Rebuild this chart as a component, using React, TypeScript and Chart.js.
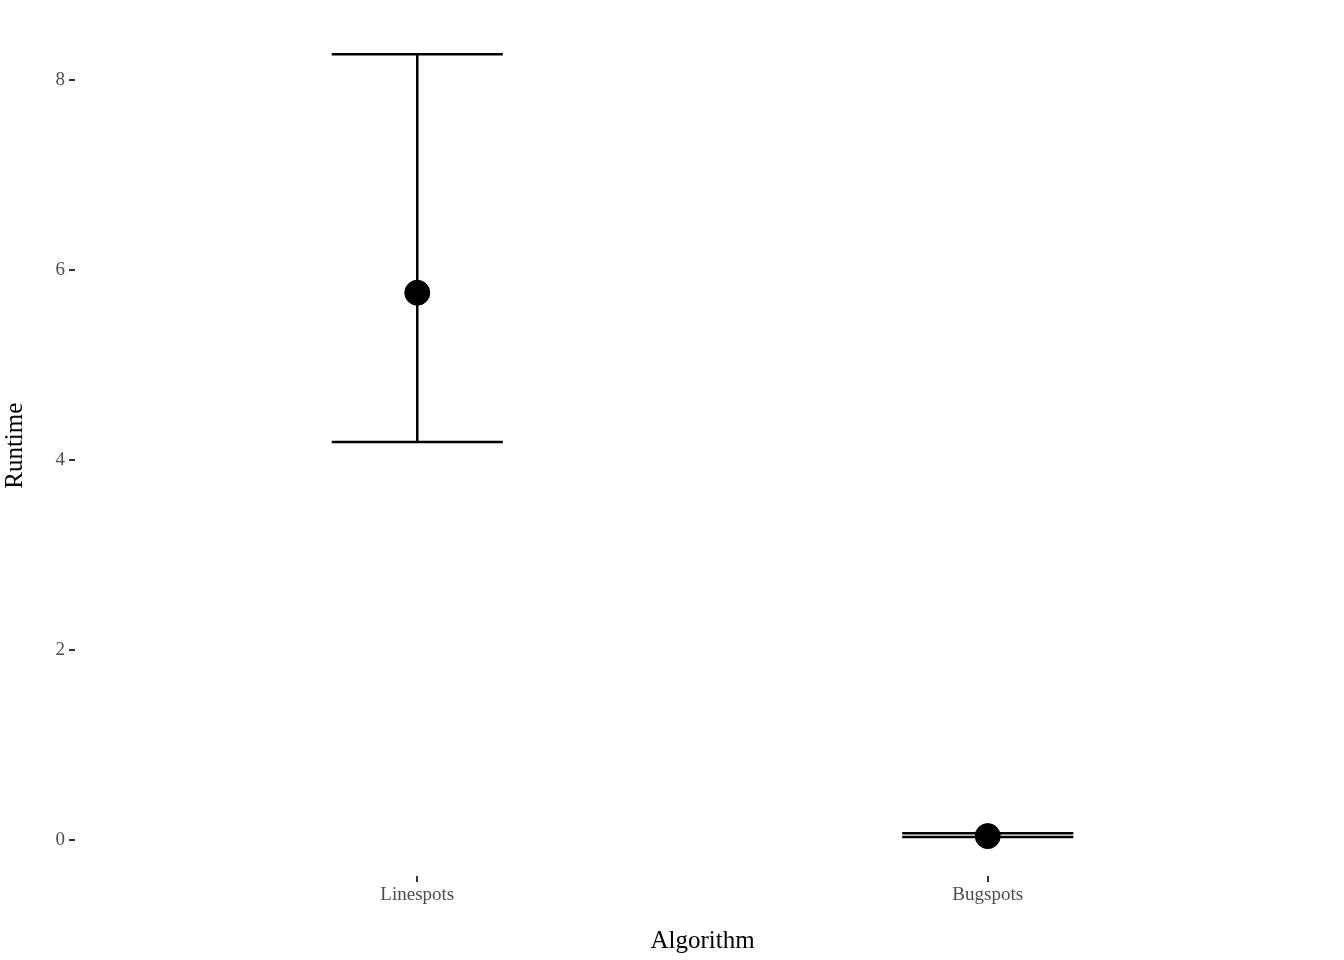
import { useEffect, useRef } from 'react';
import { Chart, registerables } from 'chart.js';

Chart.register(...registerables);

const algorithms = ['Linespots', 'Bugspots'];
const runtimeMean = [5.76, 0.04];
const runtimeLow = [4.19, 0.03];
const runtimeHigh = [8.27, 0.07];

const SERIF = '"Liberation Serif", "Times New Roman", serif';

const errorBars = {
  id: 'errorBars',
  afterDatasetsDraw(chart: any) {
    const { ctx, scales } = chart;
    const xs = scales.x;
    const ys = scales.y;
    ctx.save();
    ctx.strokeStyle = '#000';
    ctx.lineWidth = 2.5;
    algorithms.forEach((_, i) => {
      const x = xs.getPixelForValue(i);
      const half = xs.getPixelForValue(i + 0.15) - x;
      const yl = ys.getPixelForValue(runtimeLow[i]);
      const yh = ys.getPixelForValue(runtimeHigh[i]);
      ctx.beginPath();
      ctx.moveTo(x, yl);
      ctx.lineTo(x, yh);
      ctx.moveTo(x - half, yl);
      ctx.lineTo(x + half, yl);
      ctx.moveTo(x - half, yh);
      ctx.lineTo(x + half, yh);
      ctx.stroke();
    });
    ctx.restore();
  },
};

export default function App() {
  const canvasRef = useRef<HTMLCanvasElement>(null);

  useEffect(() => {
    document.body.style.margin = '0';
    if (!canvasRef.current) return;
    const chart = new Chart(canvasRef.current, {
      type: 'scatter',
      data: {
        datasets: [{
          data: runtimeMean.map((v, i) => ({ x: i, y: v })),
          backgroundColor: '#000',
          borderColor: '#000',
          pointRadius: 12.5,
          pointHoverRadius: 12.5,
        }],
      },
      options: {
        responsive: false,
        animation: false,
        layout: { padding: { top: 14, right: 14, left: 0, bottom: 0 } },
        plugins: { legend: { display: false }, tooltip: { enabled: false } },
        scales: {
          x: {
            type: 'linear',
            min: -0.6,
            max: 1.6,
            afterBuildTicks: (s: any) => { s.ticks = algorithms.map((_, i) => ({ value: i })); },
            afterFit: (s: any) => { s.height = 84; },
            ticks: {
              callback: (v: any) => algorithms[v] ?? '',
              color: '#4d4d4d',
              font: { family: SERIF, size: 19 },
              padding: 2,
            },
            grid: { drawOnChartArea: false, tickLength: 6, color: '#333', lineWidth: 2 },
            border: { display: false },
            title: { display: true, text: 'Algorithm', color: '#000', font: { family: SERIF, size: 25 }, padding: { top: 0 } },
          },
          y: {
            min: -0.38,
            max: 8.68,
            afterBuildTicks: (s: any) => { s.ticks = [0, 2, 4, 6, 8].map((v) => ({ value: v })); },
            afterFit: (s: any) => { s.width = 75; },
            ticks: {
              color: '#4d4d4d',
              font: { family: SERIF, size: 19 },
              padding: 4,
            },
            grid: { drawOnChartArea: false, tickLength: 6, color: '#333', lineWidth: 2 },
            border: { display: false },
            title: { display: true, text: 'Runtime', color: '#000', font: { family: SERIF, size: 25 }, padding: 0 },
          },
        },
      },
      plugins: [errorBars],
    });
    return () => chart.destroy();
  }, []);

  return <canvas ref={canvasRef} width={1344} height={960} style={{ display: 'block' }} />;
}
